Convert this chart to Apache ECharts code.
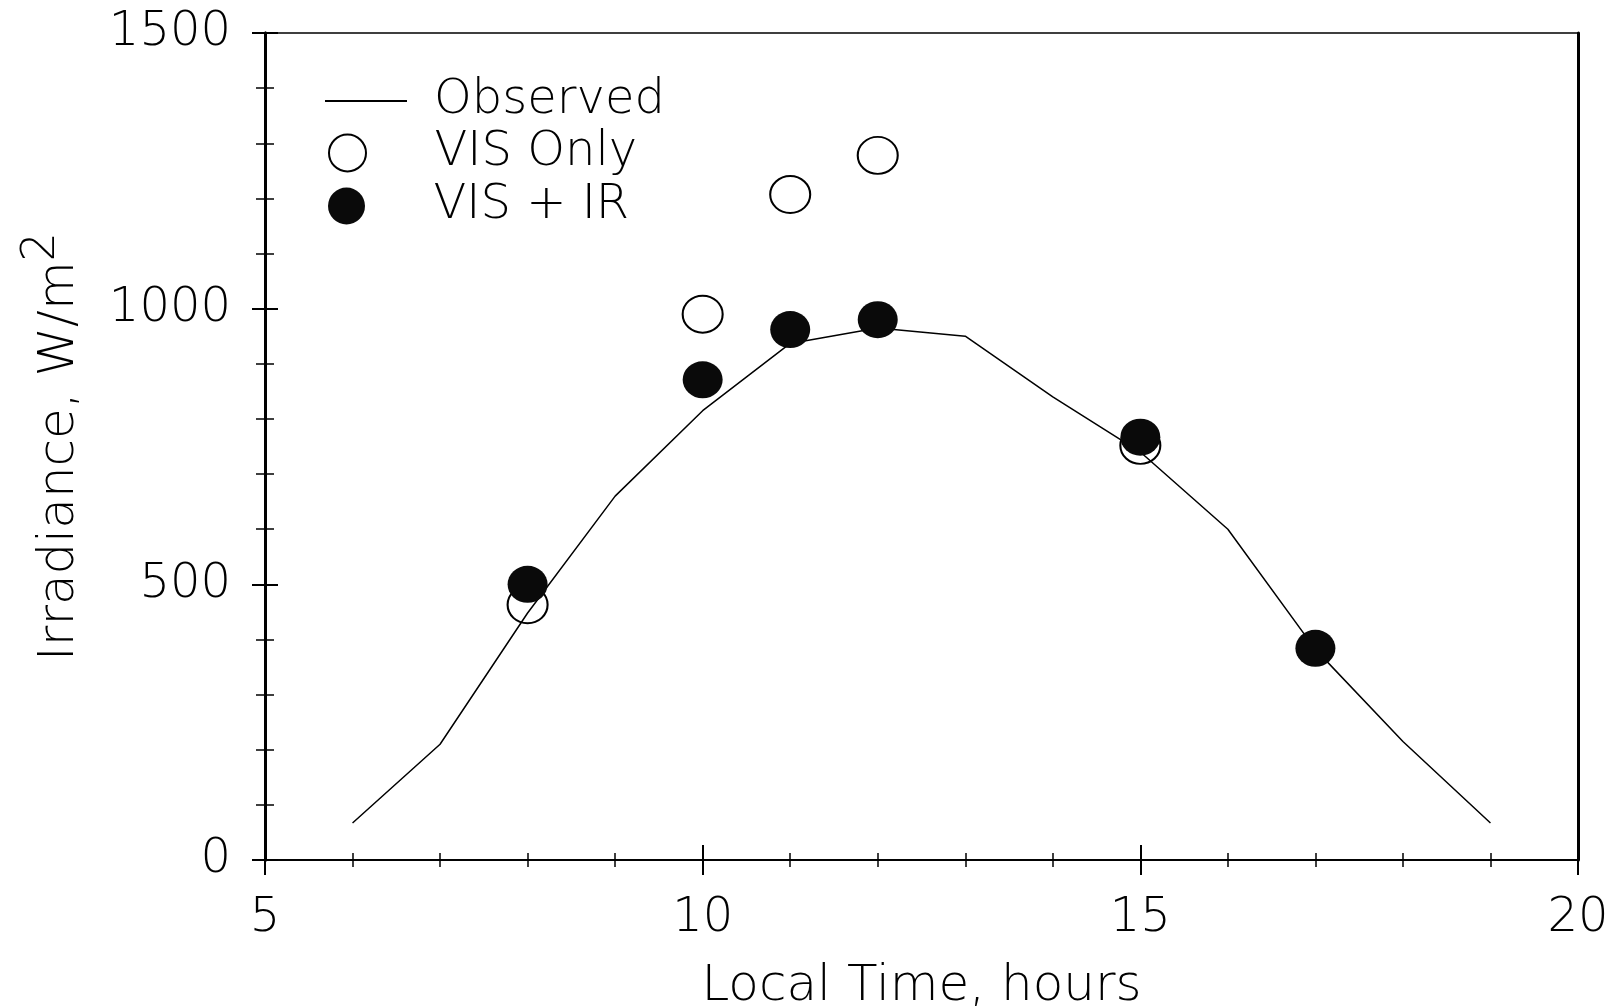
<!DOCTYPE html>
<html>
<head>
<meta charset="utf-8">
<script src="https://cdn.jsdelivr.net/npm/echarts@6/dist/echarts.min.js"></script>
<style>
  html, body { margin: 0; padding: 0; background: #fff; }
  #chart { width: 1613px; height: 1006px; }
</style>
</head>
<body>
<div id="chart"></div>
<script>
// Hourly observed irradiance (W/m2) over the day
const observedHours = [6, 7, 8, 9, 10, 11, 12, 13, 14, 15, 16, 17, 18, 19];
const observedIrradiance = [67, 210, 448, 660, 815, 937, 965, 950, 840, 740, 600, 382, 215, 67];

// Satellite estimates: visible channel only
const visOnlyHours = [8, 10, 11, 12, 15];
const visOnlyIrradiance = [463, 990, 1207, 1278, 752];

// Satellite estimates: visible + infrared
const visIrHours = [8, 10, 11, 12, 15, 17];
const visIrIrradiance = [500, 871, 962, 980, 767, 384];

// Axis ranges and tick steps
const xRange = [5, 20];
const xStep = 5;
const yRange = [0, 1500];
const yStep = 500;

const toPairs = (xs, ys) => xs.map((x, i) => [x, ys[i]]);

// Plot box in pixels
const GRID = { left: 265, right: 35, top: 33, bottom: 146 };

const FONT = '"DejaVu Sans", sans-serif';
const baseText = { fontFamily: FONT, fontWeight: 200, fontSize: 48, color: '#000' };
const nameText = { ...baseText, fontSize: 50 };
const black = '#000';
const clear = 'rgba(0,0,0,0)';
const plain = (v) => String(v);

const chart = echarts.init(document.getElementById('chart'), null, { renderer: 'canvas' });

const legendText = (pad) => ({ ...baseText, lineHeight: 50, padding: [0, 0, 0, pad] });

// Second, identical plot box whose axes carry the tick marks pointing into the plot
const innerTicks = (len, minorLen, lineWidth) => ({
  axisLine: { show: true, onZero: false, lineStyle: { color: black, width: lineWidth } },
  axisTick: { show: true, inside: true, length: len, lineStyle: { color: black, width: 2 } },
  minorTick: { show: true, splitNumber: 5, length: minorLen, lineStyle: { color: black, width: 1.5 } },
  axisLabel: { show: true, color: clear, fontSize: 10, formatter: plain },
  splitLine: { show: false },
  minorSplitLine: { show: false }
});

const option = {
  animation: false,
  backgroundColor: '#fff',
  grid: [
    {
      ...GRID,
      outerBoundsMode: 'none',
      containLabel: false,
      show: true, borderColor: black, borderWidth: 1.5, backgroundColor: 'transparent'
    },
    {
      ...GRID,
      outerBoundsMode: 'none',
      containLabel: false,
      show: false
    }
  ],
  legend: [
    {
      data: [{ name: 'Observed', icon: 'rect' }], left: 320, top: 71, itemWidth: 82, itemHeight: 2,
      textStyle: legendText(22), selectedMode: false
    },
    {
      data: ['VIS Only'], left: 323, top: 123, itemWidth: 40, itemHeight: 37,
      textStyle: legendText(62), selectedMode: false
    },
    {
      data: ['VIS + IR'], left: 323, top: 176, itemWidth: 40, itemHeight: 37,
      textStyle: legendText(62), selectedMode: false
    }
  ],
  xAxis: [
    {
      type: 'value', gridIndex: 0, min: xRange[0], max: xRange[1], interval: xStep, position: 'bottom',
      axisLine: { show: true, onZero: false, lineStyle: { color: black, width: 1.5 } },
      axisTick: { show: true, length: 15, lineStyle: { color: black, width: 2 } },
      minorTick: { show: true, splitNumber: 5, length: 7, lineStyle: { color: black, width: 1.5 } },
      axisLabel: { ...baseText, margin: 35, lineHeight: 48, formatter: plain },
      splitLine: { show: false },
      minorSplitLine: { show: false },
      name: 'Local Time, hours', nameLocation: 'middle', nameGap: 102,
      nameTextStyle: { ...nameText }
    },
    {
      type: 'value', gridIndex: 1, min: xRange[0], max: xRange[1], interval: xStep, position: 'bottom',
      ...innerTicks(15, 7, 1.5)
    }
  ],
  yAxis: [
    {
      type: 'value', gridIndex: 0, min: yRange[0], max: yRange[1], interval: yStep, position: 'left',
      axisLine: { show: true, onZero: false, lineStyle: { color: black, width: 3 } },
      axisTick: { show: true, length: 13, lineStyle: { color: black, width: 2 } },
      minorTick: { show: true, splitNumber: 5, length: 9, lineStyle: { color: black, width: 1.5 } },
      axisLabel: { ...baseText, margin: 34, formatter: plain },
      splitLine: { show: false },
      minorSplitLine: { show: false },
      name: '{n|Irradiance, W/m}{sup|2}', nameLocation: 'middle', nameGap: 180,
      nameTextStyle: {
        ...nameText,
        rich: {
          n: { ...nameText, verticalAlign: 'bottom' },
          sup: { ...nameText, fontSize: 46, verticalAlign: 'bottom', padding: [0, 0, 20, 0] }
        }
      }
    },
    {
      type: 'value', gridIndex: 1, min: yRange[0], max: yRange[1], interval: yStep, position: 'left',
      ...innerTicks(13, 9, 3)
    },
    {
      type: 'value', gridIndex: 0, min: yRange[0], max: yRange[1], interval: yStep, position: 'right',
      axisLine: { show: true, onZero: false, lineStyle: { color: black, width: 3 } },
      axisTick: { show: false },
      axisLabel: { show: false },
      splitLine: { show: false }
    }
  ],
  series: [
    {
      // drawn in the second box (same range and placement as the labelled one)
      name: 'Observed', type: 'line', xAxisIndex: 1, yAxisIndex: 1,
      data: toPairs(observedHours, observedIrradiance),
      symbol: 'none', z: 2,
      lineStyle: { color: black, width: 1.5 },
      itemStyle: { color: black }
    },
    {
      name: 'VIS Only', type: 'scatter', xAxisIndex: 0, yAxisIndex: 2,
      data: toPairs(visOnlyHours, visOnlyIrradiance),
      symbol: 'circle', symbolSize: [40, 37], z: 3,
      itemStyle: { color: clear, borderColor: black, borderWidth: 2, opacity: 1 }
    },
    {
      name: 'VIS + IR', type: 'scatter', xAxisIndex: 0, yAxisIndex: 0,
      data: toPairs(visIrHours, visIrIrradiance),
      symbol: 'circle', symbolSize: [40, 37], z: 4,
      itemStyle: { color: '#0a0a0a', opacity: 1 }
    }
  ]
};

chart.setOption(option);
</script>
</body>
</html>
